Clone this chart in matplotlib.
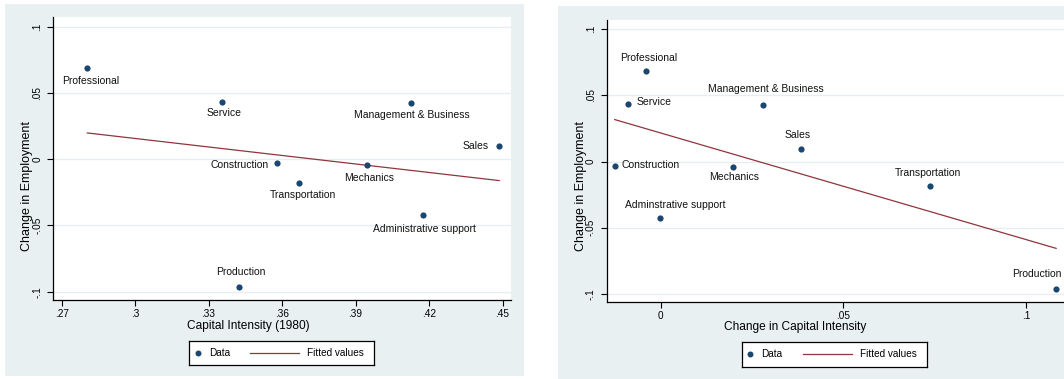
import numpy as np
import matplotlib
matplotlib.use("Agg")
import matplotlib.pyplot as plt
from matplotlib.patches import Rectangle

plt.rcParams['font.family'] = ['Liberation Sans', 'DejaVu Sans']

# occupation groups and their values
occupations = ["Professional", "Service", "Management & Business", "Sales",
               "Construction", "Mechanics", "Transportation",
               "Administrative support", "Production"]
occupations_right = ["Professional", "Service", "Management & Business", "Sales",
                     "Construction", "Mechanics", "Transportation",
                     "Adminstrative support", "Production"]
emp_change = [0.0686, 0.0433, 0.0425, 0.0097, -0.0031, -0.0044, -0.0182, -0.0425, -0.0962]
cap_1980 = [0.2805, 0.3356, 0.4125, 0.4486, 0.3579, 0.3945, 0.3669, 0.4177, 0.3426]
cap_change = [-0.0041, -0.0089, 0.0279, 0.0383, -0.0126, 0.0197, 0.0738, -0.0002, 0.1083]

y_ticks = [-0.1, -0.05, 0, 0.05, 0.1]
y_ticklabels = ["-.1", "-.05", "0", ".05", ".1"]
x1_ticks = [0.27, 0.30, 0.33, 0.36, 0.39, 0.42, 0.45]
x1_ticklabels = [".27", ".3", ".33", ".36", ".39", ".42", ".45"]
x2_ticks = [0, 0.05, 0.1]
x2_ticklabels = ["0", ".05", ".1"]

# label placement per point: (ha, dx px, dy px, dy positive = down)
place_left = [("center", 3, 13), ("center", 2, 11), ("center", 1, 12), ("right", -10, 0),
              ("right", -8, 2), ("center", 2, 13), ("center", 4, 12), ("center", 1, 14),
              ("center", 1, -15)]
place_right = [("center", 3, -13), ("left", 8, -2), ("center", 3, -16), ("center", -3, -14),
               ("left", 7, -1), ("center", 1, 10), ("center", -2, -13), ("center", 15, -13),
               ("right", 5, -15)]

NAVY = "#1a476f"
MAROON = "#90353b"
BG = "#e9f0f2"
GRID = "#e6eef0"

W, H = 1064, 379
fig = plt.figure(figsize=(W / 100, H / 100), dpi=100)
fig.patch.set_facecolor("white")


def px_box(x0, y0, x1, y1):
    return [x0 / W, 1 - y1 / H, (x1 - x0) / W, (y1 - y0) / H]


for x0, y0, x1, y1 in [(5, 4, 524, 376), (558, 6, 1070, 379)]:
    fig.patches.append(Rectangle((x0 / W, 1 - y1 / H), (x1 - x0) / W, (y1 - y0) / H,
                                 transform=fig.transFigure, facecolor=BG,
                                 edgecolor="none", zorder=-1))


def panel(box, xs, xlim, xticks, xticklabels, xlabel, names, place, xl_pos, yl_pos):
    ax = fig.add_axes(px_box(*box))
    ax.set_facecolor("white")
    ax.scatter(xs, emp_change, s=20, color=NAVY, zorder=3, linewidths=0)
    slope, icpt = np.polyfit(xs, emp_change, 1)
    xf = np.array([min(xs), max(xs)])
    ax.plot(xf, icpt + slope * xf, color=MAROON, lw=0.9, zorder=2)
    for x, y, name, (ha, dx, dy) in zip(xs, emp_change, names, place):
        ax.annotate(name, (x, y), xytext=(dx * 0.72, -dy * 0.72),
                    textcoords="offset points", ha=ha, va="center",
                    fontsize=7.5, color="#111111")
    ax.set_xlim(*xlim)
    ax.set_ylim(-0.1063, 0.107)
    ax.set_xticks(xticks)
    ax.set_xticklabels(xticklabels)
    ax.set_yticks(y_ticks)
    ax.set_yticklabels(y_ticklabels, rotation=90, va="center")
    ax.tick_params(direction="out", length=4, width=0.8, labelsize=7.2,
                   colors="black")
    ax.tick_params(axis="x", pad=2.3)
    ax.tick_params(axis="y", pad=3.8)
    ax.yaxis.grid(True, color=GRID, lw=1)
    ax.set_axisbelow(True)
    for s in ["top", "right"]:
        ax.spines[s].set_visible(False)
    for s in ["left", "bottom"]:
        ax.spines[s].set_linewidth(0.9)
        ax.spines[s].set_color("black")
    ax.set_xlabel(xlabel, fontsize=8.6, va="center")
    ax.xaxis.set_label_coords(*xl_pos)
    ax.set_ylabel("Change in Employment", fontsize=9, va="center")
    ax.yaxis.set_label_coords(*yl_pos)
    return ax


panel((53.3, 17.3, 510.7, 300), cap_1980, (0.2666, 0.4533), x1_ticks, x1_ticklabels,
      "Capital Intensity (1980)", occupations, place_left, (0.4257, -0.091), (-0.058, 0.403))
panel((606.7, 20, 1066, 302.3), cap_change, (-0.0148, 0.111), x2_ticks, x2_ticklabels,
      "Change in Capital Intensity", occupations_right, place_right, (0.411, -0.0864), (-0.056, 0.412))


def legend_box(box):
    lg = fig.add_axes(px_box(*box))
    wpx = box[2] - box[0]
    lg.set_xlim(0, wpx)
    lg.set_ylim(0, 1)
    lg.set_xticks([])
    lg.set_yticks([])
    lg.set_facecolor("white")
    for s in lg.spines.values():
        s.set_linewidth(0.9)
        s.set_color("black")
    lg.plot([8.7], [0.5], "o", color=NAVY, ms=4.3, mew=0)
    lg.text(19.5, 0.5, "Data", fontsize=7.2, va="center", ha="left")
    lg.plot([61, 110], [0.5, 0.5], color=MAROON, lw=0.9)
    lg.text(118, 0.5, "Fitted values", fontsize=7.2, va="center", ha="left")


legend_box((189.3, 341, 374.3, 364.5))
legend_box((741.7, 341.7, 927.3, 366.7))

fig.savefig("out.png", dpi=100)
